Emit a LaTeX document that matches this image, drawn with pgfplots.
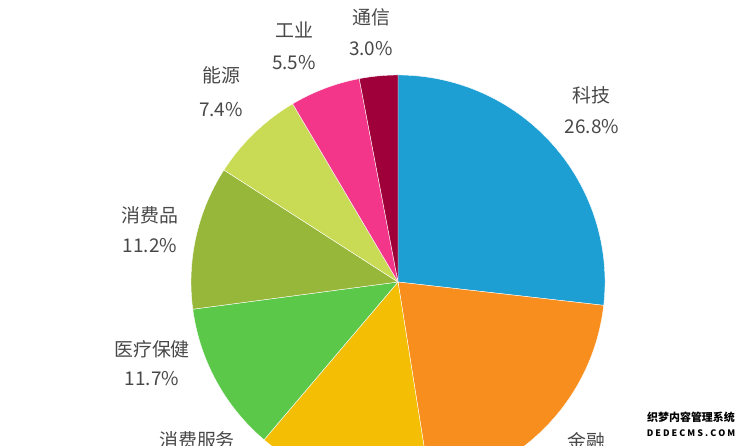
\documentclass[border=0pt]{standalone}
\usepackage{pgfplots}
\pgfplotsset{compat=1.18}
\usepackage{fontspec}
\setmainfont{Noto Sans CJK SC}
\newfontfamily\wmfont{Noto Sans CJK SC}

\definecolor{cKeji}{HTML}{1E9FD3}
\definecolor{cJinrong}{HTML}{F78E1E}
\definecolor{cXiaofeifuwu}{HTML}{F4BE04}
\definecolor{cYiliao}{HTML}{5CC84A}
\definecolor{cXiaofeipin}{HTML}{97B73A}
\definecolor{cNengyuan}{HTML}{C9DB54}
\definecolor{cGongye}{HTML}{F3368A}
\definecolor{cTongxin}{HTML}{A0003A}
\definecolor{labelgray}{HTML}{484848}

% shares in percent, clockwise from 12 o'clock
\def\pKeji{26.8}
\def\pJinrong{20.7}
\def\pXiaofeifuwu{13.7}
\def\pYiliao{11.7}
\def\pXiaofeipin{11.2}
\def\pNengyuan{7.4}
\def\pGongye{5.5}
\def\pTongxin{3.0}

\tikzset{lbl/.style={text=labelgray, font=\fontsize{19}{19}\selectfont, anchor=center, inner sep=0pt}}

\begin{document}
\begin{tikzpicture}[x=1bp,y=1bp]
  \pgfmathsetmacro\aA{90}
  \pgfmathsetmacro\aB{\aA-3.6*\pKeji}
  \pgfmathsetmacro\aC{\aB-3.6*\pJinrong}
  \pgfmathsetmacro\aD{\aC-3.6*\pXiaofeifuwu}
  \pgfmathsetmacro\aE{\aD-3.6*\pYiliao}
  \pgfmathsetmacro\aF{\aE-3.6*\pXiaofeipin}
  \pgfmathsetmacro\aG{\aF-3.6*\pNengyuan}
  \pgfmathsetmacro\aH{\aG-3.6*\pGongye}
  \pgfmathsetmacro\aI{\aH-3.6*\pTongxin}
  \useasboundingbox (0,0) rectangle (753,446);
  \clip (0,0) rectangle (753,446);
  \begin{axis}[
      at={(0,0)}, anchor=south west,
      scale only axis, width=753bp, height=446bp,
      xmin=-398, xmax=355, ymin=-164, ymax=282,
      hide axis, clip=false,
      every axis plot/.append style={draw=white, line width=0.4pt, samples=90, smooth},
    ]
    \addplot[fill=cKeji, domain=\aB:\aA, variable=\t] ({207*cos(t)},{207*sin(t)}) -- (0,0) -- cycle;
    \addplot[fill=cJinrong, domain=\aC:\aB, variable=\t] ({207*cos(t)},{207*sin(t)}) -- (0,0) -- cycle;
    \addplot[fill=cXiaofeifuwu, domain=\aD:\aC, variable=\t] ({207*cos(t)},{207*sin(t)}) -- (0,0) -- cycle;
    \addplot[fill=cYiliao, domain=\aE:\aD, variable=\t] ({207*cos(t)},{207*sin(t)}) -- (0,0) -- cycle;
    \addplot[fill=cXiaofeipin, domain=\aF:\aE, variable=\t] ({207*cos(t)},{207*sin(t)}) -- (0,0) -- cycle;
    \addplot[fill=cNengyuan, domain=\aG:\aF, variable=\t] ({207*cos(t)},{207*sin(t)}) -- (0,0) -- cycle;
    \addplot[fill=cGongye, domain=\aH:\aG, variable=\t] ({207*cos(t)},{207*sin(t)}) -- (0,0) -- cycle;
    \addplot[fill=cTongxin, domain=\aI:\aH, variable=\t] ({207*cos(t)},{207*sin(t)}) -- (0,0) -- cycle;

    \node[lbl] at (193,187) {科技};
    \node[lbl] at (194,155) {26.8\%};
    \node[lbl] at (188,-159) {金融};
    \node[lbl] at (-201,-158) {消费服务};
    \node[lbl] at (-246,-67) {医疗保健};
    \node[lbl] at (-246,-97) {11.7\%};
    \node[lbl] at (-248,67) {消费品};
    \node[lbl] at (-248,36) {11.2\%};
    \node[lbl] at (-177,207) {能源};
    \node[lbl] at (-177,172) {7.4\%};
    \node[lbl] at (-104,252) {工业};
    \node[lbl] at (-104,219) {5.5\%};
    \node[lbl] at (-27,265) {通信};
    \node[lbl] at (-27,233) {3.0\%};

    \node[inner sep=0pt, font=\wmfont\bfseries\fontsize{11}{11}\selectfont, text=black] at (293,-135) {织梦内容管理系统};
    \node[inner sep=0pt, font=\wmfont\bfseries\fontsize{9}{9}\selectfont, text=black] at (293,-151) {D E D E C M S . C O M};
  \end{axis}
\end{tikzpicture}
\end{document}
